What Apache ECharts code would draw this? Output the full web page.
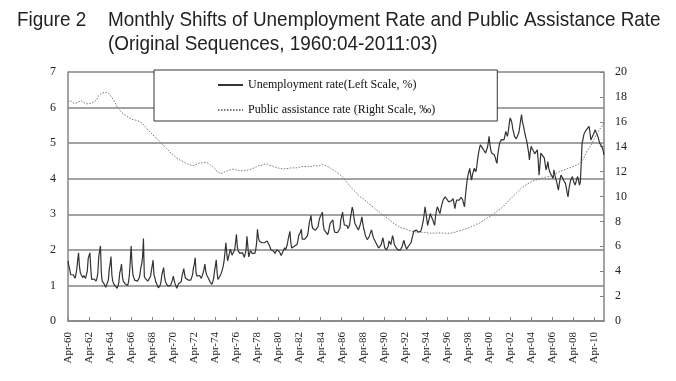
<!DOCTYPE html>
<html><head><meta charset="utf-8">
<script src="https://cdn.jsdelivr.net/npm/echarts@6/dist/echarts.min.js"></script>
<style>html,body{margin:0;padding:0;background:#fff}#c{width:676px;height:381px}</style>
</head><body><div id="c"></div>
<script>
// ---- data ----
const monthNames = ['Jan','Feb','Mar','Apr','May','Jun','Jul','Aug','Sep','Oct','Nov','Dec'];
const firstYear = 1960, firstMonthIndex = 3, monthCount = 612; // 1960:04 - 2011:03
const leftTicks = [0,1,2,3,4,5,6,7];
const rightTicks = [0,2,4,6,8,10,12,14,16,18,20];
const seriesNames = ['Unemployment rate(Left Scale, %)', 'Public assistance rate (Right Scale, \u2030)'];
const titleLead = 'Figure 2';
const titleLine1 = 'Monthly Shifts of Unemployment Rate and Public Assistance Rate';
const titleLine2 = '(Original Sequences, 1960:04-2011:03)';

// Unemployment rate (%), one row per fiscal year Apr..Mar
const unemploymentRate = [
1.69,1.55,1.45,1.3,1.26,1.35,1.3,1.25,1.2,1.3,1.45,1.7,
1.92,1.55,1.36,1.3,1.25,1.22,1.28,1.26,1.2,1.25,1.4,1.75,
1.7,1.92,1.45,1.17,1.2,1.15,1.18,1.15,1.12,1.2,1.35,1.8,
1.85,2.11,1.35,1.12,1.1,1.05,1.0,0.95,0.93,1.0,1.15,1.45,
1.6,1.81,1.3,1.12,1.05,1.0,0.98,0.95,0.92,0.98,1.1,1.35,
1.45,1.6,1.25,1.12,1.1,1.05,1.08,1.03,1.0,1.1,1.3,1.7,
2.11,1.6,1.3,1.22,1.15,1.12,1.15,1.12,1.1,1.2,1.3,1.5,
1.6,1.8,2.32,1.26,1.2,1.15,1.15,1.12,1.1,1.15,1.25,1.4,
1.45,1.71,1.3,1.22,1.1,1.05,1.0,0.93,0.95,1.0,1.1,1.3,
1.35,1.5,1.25,1.12,1.05,1.0,0.98,0.93,0.95,1.0,1.05,1.15,
1.26,1.15,1.05,1.0,0.92,0.95,1.05,1.1,1.0,1.1,1.26,1.3,
1.47,1.3,1.2,1.17,1.15,1.15,1.12,1.12,1.15,1.2,1.3,1.5,
1.6,1.78,1.35,1.26,1.3,1.31,1.28,1.25,1.2,1.25,1.35,1.45,
1.6,1.4,1.3,1.26,1.2,1.15,1.1,1.05,1.03,1.1,1.2,1.4,
1.55,1.72,1.35,1.17,1.2,1.25,1.3,1.36,1.4,1.55,1.7,1.95,
2.2,1.9,1.69,1.8,1.9,2.02,1.95,1.85,1.8,1.9,2.0,2.2,
2.44,2.1,1.97,1.95,1.9,1.85,1.95,1.92,1.85,1.79,1.8,2.0,
2.38,2.1,1.8,1.9,1.98,1.95,1.9,1.86,1.85,1.9,2.0,2.2,
2.58,2.35,2.25,2.2,2.22,2.2,2.18,2.2,2.2,2.25,2.22,2.25,
2.2,2.29,2.1,2.02,2.0,1.98,1.97,1.95,1.9,1.95,2.0,2.04,
2.0,1.95,1.9,1.84,1.9,1.95,2.0,2.06,2.0,2.05,2.15,2.3,
2.35,2.52,2.2,2.05,2.02,2.05,2.1,2.15,2.1,2.15,2.25,2.4,
2.4,2.5,2.58,2.3,2.25,2.28,2.3,2.32,2.34,2.4,2.55,2.75,
2.85,2.97,2.7,2.6,2.56,2.6,2.55,2.56,2.6,2.65,2.8,2.9,
2.95,3.0,3.06,2.7,2.56,2.55,2.5,2.45,2.43,2.5,2.65,2.75,
2.7,2.78,2.84,2.6,2.5,2.47,2.5,2.48,2.45,2.43,2.6,2.85,
2.95,3.06,2.85,2.7,2.65,2.7,2.68,2.6,2.56,2.7,2.9,3.05,
3.2,3.1,2.9,2.75,2.7,2.65,2.6,2.56,2.6,2.7,2.8,2.93,
2.75,2.6,2.52,2.4,2.35,2.29,2.3,2.35,2.42,2.5,2.56,2.45,
2.35,2.31,2.25,2.2,2.15,2.1,2.05,2.02,2.05,2.15,2.25,2.34,
2.2,2.06,2.02,2.0,2.05,2.1,2.25,2.2,2.15,2.2,2.4,2.3,
2.15,2.1,2.06,2.05,2.0,2.02,2.05,2.0,2.05,2.1,2.2,2.27,
2.15,2.1,2.02,2.05,2.1,2.12,2.15,2.2,2.3,2.4,2.52,2.5,
2.5,2.56,2.52,2.5,2.48,2.47,2.52,2.59,2.7,2.83,3.0,3.21,
3.05,2.85,2.69,2.8,2.9,3.02,2.95,2.9,2.83,2.75,2.69,2.95,
3.1,3.21,3.15,3.08,3.02,3.15,3.25,3.35,3.42,3.47,3.49,3.45,
3.42,3.4,3.35,3.32,3.3,3.38,3.42,3.44,3.3,3.16,3.3,3.4,
3.44,3.42,3.4,3.45,3.48,3.49,3.4,3.3,3.21,3.5,3.75,3.96,
4.1,4.2,4.29,4.1,3.96,4.1,4.2,4.29,4.25,4.2,4.35,4.55,
4.72,4.85,4.95,4.9,4.88,4.86,4.8,4.75,4.72,4.8,4.86,5.0,
5.19,4.95,4.8,4.72,4.7,4.68,4.67,4.6,4.5,4.43,4.7,4.85,
5.0,5.05,5.1,5.14,5.12,5.09,5.2,5.33,5.25,5.19,5.35,5.55,
5.71,5.65,5.57,5.4,5.3,5.19,5.15,5.12,5.1,5.09,5.3,5.47,
5.65,5.8,5.6,5.5,5.38,5.25,5.14,5.05,5.0,4.75,4.53,4.75,
4.91,4.85,4.8,4.76,4.7,4.72,4.67,4.81,4.5,4.1,4.4,4.72,
4.72,4.65,4.6,4.58,4.4,4.25,4.35,4.48,4.3,4.2,4.15,4.1,
4.05,4.01,4.25,4.1,4.0,3.92,3.8,3.68,3.85,4.0,4.1,4.05,
4.01,3.95,3.9,3.87,3.75,3.6,3.49,3.7,3.85,3.96,4.0,4.06,
3.95,3.88,3.82,3.9,4.0,4.06,3.95,3.82,3.9,4.4,5.0,5.1,
5.24,5.3,5.35,5.38,5.38,5.42,5.47,5.3,5.09,5.1,5.14,5.25,
5.3,5.38,5.3,5.25,5.19,5.1,5.0,4.95,4.93,4.91,4.8,4.67
];

// Public assistance rate (per mille), one row per fiscal year Apr..Mar
const publicAssistanceRate = [
17.6,17.65,17.7,17.7,17.6,17.55,17.5,17.45,17.45,17.5,17.55,17.6,
17.6,17.65,17.65,17.7,17.65,17.6,17.55,17.5,17.45,17.45,17.5,17.45,
17.45,17.4,17.45,17.5,17.55,17.6,17.6,17.6,17.65,17.8,17.95,18.1,
18.2,18.25,18.3,18.25,18.3,18.35,18.3,18.35,18.35,18.4,18.3,18.25,
18.15,18.05,18.0,17.9,17.75,17.6,17.5,17.35,17.2,17.15,17.05,16.95,
16.85,16.75,16.7,16.65,16.6,16.55,16.5,16.45,16.4,16.35,16.3,16.25,
16.25,16.2,16.25,16.2,16.15,16.1,16.15,16.1,16.1,16.05,16.0,15.95,
15.9,15.85,15.8,15.7,15.6,15.55,15.45,15.35,15.3,15.25,15.17,15.1,
15.0,14.95,14.85,14.8,14.7,14.65,14.6,14.5,14.45,14.4,14.35,14.25,
14.15,14.1,14.0,13.96,13.9,13.8,13.75,13.65,13.6,13.5,13.45,13.4,
13.34,13.3,13.2,13.15,13.1,13.05,13.0,12.95,12.9,12.88,12.85,12.8,
12.75,12.7,12.65,12.65,12.6,12.6,12.55,12.6,12.55,12.5,12.55,12.5,
12.5,12.53,12.55,12.6,12.6,12.65,12.7,12.65,12.7,12.7,12.75,12.7,
12.75,12.75,12.7,12.7,12.65,12.6,12.55,12.5,12.43,12.4,12.35,12.3,
12.2,12.1,12.0,11.95,11.9,11.88,11.86,11.9,11.85,11.9,11.95,12.0,
12.0,12.05,12.07,12.1,12.1,12.15,12.1,12.15,12.2,12.2,12.2,12.15,
12.15,12.1,12.1,12.05,12.1,12.05,12.1,12.05,12.1,12.05,12.07,12.1,
12.1,12.15,12.15,12.2,12.2,12.2,12.25,12.3,12.3,12.35,12.4,12.4,
12.43,12.45,12.5,12.5,12.55,12.5,12.55,12.55,12.6,12.6,12.55,12.6,
12.6,12.55,12.5,12.5,12.45,12.45,12.4,12.4,12.35,12.4,12.35,12.3,
12.3,12.25,12.25,12.2,12.25,12.2,12.2,12.2,12.25,12.2,12.2,12.25,
12.25,12.25,12.3,12.3,12.25,12.3,12.3,12.35,12.3,12.35,12.3,12.35,
12.35,12.35,12.4,12.35,12.4,12.4,12.35,12.4,12.4,12.45,12.4,12.45,
12.45,12.45,12.4,12.45,12.45,12.5,12.45,12.5,12.45,12.48,12.5,12.5,
12.5,12.55,12.56,12.6,12.55,12.5,12.5,12.45,12.4,12.35,12.3,12.3,
12.27,12.2,12.15,12.1,12.05,12.0,11.95,11.9,11.85,11.8,11.75,11.7,
11.67,11.6,11.5,11.4,11.3,11.25,11.15,11.05,10.95,10.9,10.8,10.73,
10.65,10.55,10.5,10.4,10.35,10.25,10.2,10.1,10.05,10.0,9.93,9.9,
9.85,9.8,9.7,9.65,9.6,9.5,9.45,9.4,9.35,9.3,9.25,9.2,
9.15,9.1,9.0,8.95,8.9,8.85,8.8,8.75,8.7,8.6,8.55,8.5,
8.45,8.44,8.4,8.3,8.25,8.2,8.15,8.1,8.0,7.95,7.9,7.85,
7.8,7.75,7.7,7.65,7.64,7.6,7.55,7.5,7.5,7.45,7.45,7.4,
7.4,7.38,7.37,7.35,7.3,7.28,7.25,7.22,7.2,7.2,7.18,7.17,
7.15,7.15,7.14,7.15,7.12,7.12,7.1,7.12,7.1,7.1,7.12,7.1,
7.1,7.08,7.1,7.08,7.06,7.08,7.05,7.06,7.05,7.05,7.06,7.05,
7.05,7.06,7.08,7.1,7.08,7.1,7.08,7.06,7.05,7.06,7.05,7.04,
7.04,7.05,7.05,7.04,7.05,7.05,7.08,7.1,7.12,7.14,7.15,7.17,
7.2,7.22,7.23,7.25,7.28,7.3,7.32,7.35,7.38,7.4,7.42,7.45,
7.48,7.5,7.52,7.55,7.6,7.62,7.65,7.68,7.72,7.75,7.78,7.8,
7.82,7.85,7.88,7.95,8.0,8.05,8.1,8.15,8.2,8.25,8.28,8.32,
8.35,8.4,8.45,8.5,8.55,8.6,8.65,8.7,8.75,8.8,8.85,8.9,
8.95,9.0,9.05,9.12,9.2,9.28,9.35,9.42,9.5,9.58,9.65,9.72,
9.78,9.85,9.92,10.0,10.06,10.12,10.2,10.26,10.34,10.4,10.46,10.52,
10.6,10.66,10.72,10.78,10.82,10.88,10.92,10.98,11.02,11.06,11.1,11.15,
11.19,11.22,11.25,11.27,11.3,11.32,11.34,11.36,11.38,11.4,11.43,11.46,
11.48,11.5,11.52,11.53,11.55,11.57,11.58,11.6,11.62,11.63,11.65,11.67,
11.7,11.74,11.78,11.82,11.86,11.9,11.93,11.96,12.0,12.02,12.05,12.07,
12.1,12.12,12.15,12.18,12.2,12.23,12.26,12.28,12.3,12.33,12.35,12.38,
12.4,12.43,12.46,12.5,12.52,12.55,12.6,12.65,12.7,12.75,12.85,12.95,
13.1,13.25,13.4,13.55,13.7,13.8,13.9,14.0,14.09,14.2,14.35,14.5,
14.65,14.8,14.95,15.05,15.15,15.3,15.4,15.5,15.58,15.7,15.8,15.9
];

// category labels (Mon-YY)
const months = [];
for (let i = 0; i < monthCount; i++) {
  const m = (firstMonthIndex + i) % 12;
  const y = firstYear + Math.floor((firstMonthIndex + i) / 12);
  months.push(monthNames[m] + '-' + String(y % 100).padStart(2, '0'));
}

const serif = '"Liberation Serif", "Times New Roman", serif';
const titleFont = '"Liberation Sans", Arial, sans-serif';
const gridColor = '#858585';

function titleText(text, x, y) {
  return {
    type: 'text', x: x, y: y, scaleX: 0.9, silent: true,
    style: {text: text, fontFamily: titleFont, fontSize: 21, fill: '#222', verticalAlign: 'middle', align: 'left'}
  };
}

const chart = echarts.init(document.getElementById('c'), null, {renderer: 'canvas'});
chart.setOption({
  animation: false,
  backgroundColor: '#fff',
  graphic: [
    titleText(titleLead, 17, 20),
    titleText(titleLine1, 108, 20),
    titleText(titleLine2, 108, 44)
  ],
  legend: {
    orient: 'vertical',
    left: 154, top: 70,
    padding: [9, 62, 5, 63],
    itemGap: 13,
    itemWidth: 25, itemHeight: 10,
    backgroundColor: '#fff',
    borderColor: '#333', borderWidth: 1,
    itemStyle: {color: 'rgba(0,0,0,0)', borderWidth: 0, opacity: 0},
    textStyle: {fontFamily: serif, fontSize: 12, color: '#111'},
    data: seriesNames
  },
  grid: {left: 68, right: 72, top: 72, bottom: 60, containLabel: false},
  xAxis: {
    type: 'category',
    data: months,
    boundaryGap: false,
    axisLine: {lineStyle: {color: gridColor, width: 1.5}},
    axisTick: {inside: true, length: 4, interval: 23, lineStyle: {color: gridColor}},
    axisLabel: {interval: 23, rotate: 90, fontFamily: serif, fontSize: 11, color: '#222', margin: 11},
    splitLine: {show: false}
  },
  yAxis: [
    {
      type: 'value', min: leftTicks[0], max: leftTicks[leftTicks.length - 1], interval: 1,
      axisLine: {show: true, lineStyle: {color: gridColor, width: 1.5}},
      axisTick: {show: false},
      axisLabel: {fontFamily: serif, fontSize: 12, color: '#222', margin: 12},
      splitLine: {show: true, lineStyle: {color: gridColor, width: 1.6}}
    },
    {
      type: 'value', min: rightTicks[0], max: rightTicks[rightTicks.length - 1], interval: 2,
      position: 'right',
      axisLine: {show: true, lineStyle: {color: gridColor, width: 1.5}},
      axisTick: {show: true, inside: true, length: 4, lineStyle: {color: gridColor}},
      axisLabel: {fontFamily: serif, fontSize: 12, color: '#222', margin: 11},
      splitLine: {show: false}
    }
  ],
  series: [
    {
      name: seriesNames[0], type: 'line', yAxisIndex: 0, data: unemploymentRate,
      symbol: 'none', lineStyle: {color: '#333', width: 1.2}, itemStyle: {color: '#333'}
    },
    {
      name: seriesNames[1], type: 'line', yAxisIndex: 1, data: publicAssistanceRate,
      symbol: 'none', lineStyle: {color: '#777', width: 1, type: [1.5, 1.5]}, itemStyle: {color: '#777'}
    }
  ]
});
</script></body></html>
